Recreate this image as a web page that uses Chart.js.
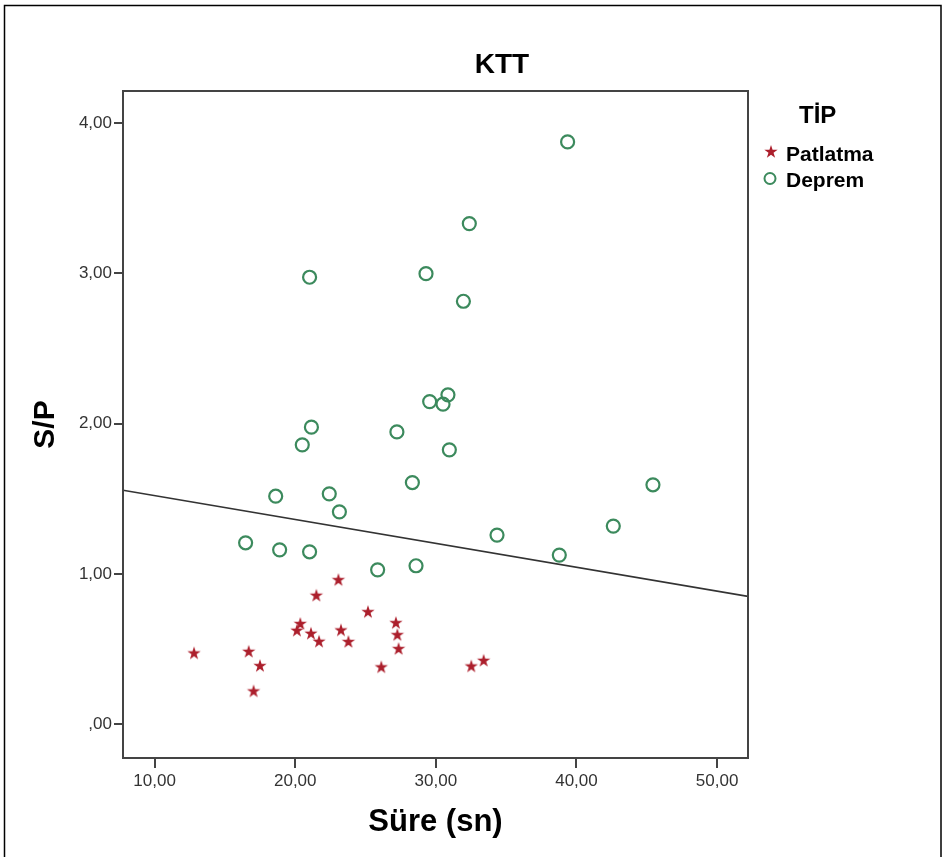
<!DOCTYPE html>
<html>
<head>
<meta charset="utf-8">
<title>KTT</title>
<script src="https://cdn.jsdelivr.net/npm/chart.js@4.4.1/dist/chart.umd.min.js"></script>
<style>
  html, body { margin: 0; padding: 0; background: #fff; }
  #wrap { width: 946px; height: 857px; }
</style>
</head>
<body>
<div id="wrap"><canvas id="chart" width="946" height="857"></canvas></div>
<script>
// Patlatma (explosions): Süre (sn) -> S/P
const patlatmaX = [12.80, 16.69, 17.49, 17.04, 20.36, 20.12, 21.12, 21.69, 21.50, 23.07,
                   23.25, 23.78, 25.17, 27.16, 27.26, 27.35, 26.12, 32.52, 33.40];
const patlatmaY = [0.470, 0.481, 0.386, 0.217, 0.666, 0.621, 0.601, 0.548, 0.854, 0.958,
                   0.623, 0.546, 0.745, 0.672, 0.592, 0.499, 0.377, 0.383, 0.421];

// Deprem (earthquakes)
const depremX = [39.37, 32.38, 29.30, 21.02, 31.96, 29.56, 30.86, 30.51, 21.15, 20.50,
                 27.23, 30.96, 28.33, 18.61, 22.42, 23.14, 45.44, 34.35, 42.62, 38.78,
                 28.59, 25.86, 16.47, 18.89, 21.02];
const depremY = [3.876, 3.332, 2.999, 2.975, 2.815, 2.147, 2.192, 2.130, 1.977, 1.859,
                 1.945, 1.826, 1.608, 1.517, 1.533, 1.413, 1.593, 1.258, 1.318, 1.125,
                 1.054, 1.027, 1.207, 1.160, 1.147];

// fit line, ends
const fitX = [7.75, 52.2];
const fitY = [1.557, 0.850];

const xTicks = [10, 20, 30, 40, 50];
const xTickLabels = ["10,00", "20,00", "30,00", "40,00", "50,00"];
const yTicks = [0, 1, 2, 3, 4];
const yTickLabels = [",00", "1,00", "2,00", "3,00", "4,00"];

const seriesNames = ["Patlatma", "Deprem"];
const legendTitle = "TİP";
const chartTitle = "KTT";

const FONT = "'Liberation Sans', Arial, sans-serif";
const RED = "#ac1f2c";
const GREEN = "#3c8a5d";
const AXIS = "#444";

// 5-point star used as the Patlatma marker
function makeStar(r, color) {
  const size = Math.ceil(r * 2 + 2);
  const c = document.createElement("canvas");
  c.width = size;
  c.height = size;
  const g = c.getContext("2d");
  g.fillStyle = color;
  g.beginPath();
  for (let i = 0; i < 10; i++) {
    const rad = i % 2 === 0 ? r : r * 0.38;
    const a = -Math.PI / 2 + (i * Math.PI) / 5;
    const px = size / 2 + rad * Math.cos(a);
    const py = size / 2 + rad * Math.sin(a);
    if (i === 0) g.moveTo(px, py);
    else g.lineTo(px, py);
  }
  g.closePath();
  g.fill();
  return c;
}
const starImg = makeStar(7, RED);

function toPoints(xs, ys) {
  return xs.map((x, i) => ({ x: x, y: ys[i] }));
}

// frame, title and legend drawn on top
const decorPlugin = {
  id: "decor",
  afterDraw(chart) {
    const ctx = chart.ctx;
    const a = chart.chartArea;
    ctx.save();

    // outer picture frame
    ctx.strokeStyle = "#000";
    ctx.lineWidth = 1.5;
    ctx.beginPath();
    ctx.moveTo(4.5, 857);
    ctx.lineTo(4.5, 5.5);
    ctx.lineTo(941, 5.5);
    ctx.lineTo(941, 857);
    ctx.stroke();

    // plot box
    ctx.strokeStyle = AXIS;
    ctx.lineWidth = 2;
    ctx.strokeRect(a.left, a.top, a.right - a.left, a.bottom - a.top);

    // title
    ctx.fillStyle = "#000";
    ctx.textAlign = "center";
    ctx.textBaseline = "middle";
    ctx.font = "bold 28px " + FONT;
    ctx.fillText(chartTitle, 502, 65);

    // legend
    ctx.textAlign = "left";
    ctx.font = "bold 24px " + FONT;
    ctx.fillText(legendTitle, 799, 116);
    ctx.font = "bold 21px " + FONT;
    ctx.fillText(seriesNames[0], 786, 155);
    ctx.fillText(seriesNames[1], 786, 181);
    ctx.drawImage(starImg, 771 - starImg.width / 2, 152 - starImg.height / 2);
    ctx.strokeStyle = GREEN;
    ctx.lineWidth = 2;
    ctx.beginPath();
    ctx.arc(770, 178.5, 5.5, 0, Math.PI * 2);
    ctx.stroke();

    ctx.restore();
  },
};

new Chart(document.getElementById("chart"), {
  type: "scatter",
  data: {
    datasets: [
      {
        label: seriesNames[0],
        data: toPoints(patlatmaX, patlatmaY),
        pointStyle: starImg,
        pointRadius: 7,
        order: 1,
      },
      {
        label: seriesNames[1],
        data: toPoints(depremX, depremY),
        pointStyle: "circle",
        pointRadius: 6.5,
        borderColor: GREEN,
        backgroundColor: "rgba(0,0,0,0)",
        borderWidth: 2.2,
        order: 1,
      },
      {
        label: "fit",
        data: toPoints(fitX, fitY),
        showLine: true,
        pointRadius: 0,
        borderColor: "#333",
        borderWidth: 1.6,
        order: 2,
      },
    ],
  },
  options: {
    responsive: false,
    devicePixelRatio: 1,
    animation: false,
    layout: { padding: { left: 0, top: 91, right: 198, bottom: 0 } },
    plugins: {
      legend: { display: false },
      title: { display: false },
      tooltip: { enabled: false },
    },
    scales: {
      x: {
        type: "linear",
        min: 7.75,
        max: 52.2,
        afterBuildTicks: (scale) => {
          scale.ticks = xTicks.map((v) => ({ value: v }));
        },
        afterFit: (scale) => {
          scale.height = 99;
        },
        border: { display: false },
        grid: { drawOnChartArea: false, drawTicks: true, tickLength: 10, color: AXIS, lineWidth: 2 },
        ticks: {
          padding: 3,
          color: "#333",
          font: { family: FONT, size: 17 },
          callback: (v) => xTickLabels[xTicks.indexOf(v)],
        },
        title: {
          display: true,
          text: "Süre (sn)",
          color: "#000",
          font: { family: FONT, size: 31, weight: "bold" },
          padding: { top: 0, bottom: 16 },
        },
      },
      y: {
        type: "linear",
        min: -0.226,
        max: 4.215,
        afterBuildTicks: (scale) => {
          scale.ticks = yTicks.map((v) => ({ value: v }));
        },
        afterFit: (scale) => {
          scale.width = 123;
        },
        border: { display: false },
        grid: { drawOnChartArea: false, drawTicks: true, tickLength: 9, color: AXIS, lineWidth: 2 },
        ticks: {
          padding: 2,
          color: "#333",
          font: { family: FONT, size: 17 },
          callback: (v) => yTickLabels[yTicks.indexOf(v)],
        },
        title: {
          display: true,
          text: "S/P",
          color: "#000",
          font: { family: FONT, size: 30, weight: "bold" },
          padding: { top: 28, bottom: 0 },
        },
      },
    },
  },
  plugins: [decorPlugin],
});
</script>
</body>
</html>
